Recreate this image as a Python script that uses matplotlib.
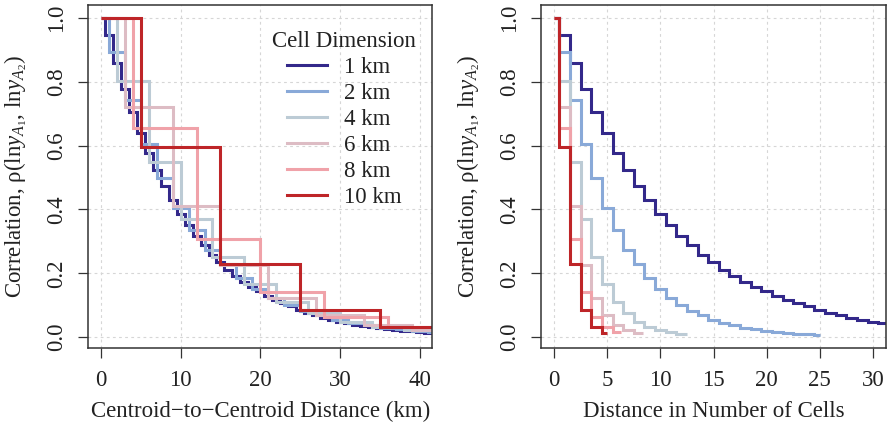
import numpy as np
import matplotlib
matplotlib.use("Agg")
import matplotlib.pyplot as plt

plt.rcParams["font.family"] = ["Liberation Serif", "DejaVu Serif"]
plt.rcParams["mathtext.fontset"] = "custom"
plt.rcParams["mathtext.rm"] = "Liberation Serif"
plt.rcParams["mathtext.it"] = "Liberation Serif:italic"

FS = 16.5

# cell sizes (km) and correlation of cell averages at lag k = 0, 1, 2, ... cells
cell_km = [1, 2, 4, 6, 8, 10]
labels = ["1 km", "2 km", "4 km", "6 km", "8 km", "10 km"]
max_dist_km = 50

rho_1km = [1.0, 0.945, 0.859, 0.778, 0.704, 0.638, 0.577, 0.522, 0.474, 0.430,
           0.387, 0.351, 0.318, 0.287, 0.258, 0.234, 0.211, 0.192, 0.174, 0.157,
           0.143, 0.130, 0.117, 0.106, 0.096, 0.086, 0.077, 0.069, 0.061, 0.054,
           0.048, 0.043, 0.039, 0.035, 0.031, 0.028, 0.025, 0.022, 0.020, 0.018,
           0.016, 0.014, 0.013, 0.012, 0.011, 0.010, 0.009, 0.008, 0.007, 0.006,
           0.005]
rho_2km = [1.0, 0.893, 0.741, 0.606, 0.497, 0.404, 0.335, 0.273, 0.228, 0.184,
           0.150, 0.123, 0.101, 0.083, 0.068, 0.055, 0.045, 0.037, 0.030, 0.025,
           0.020, 0.016, 0.013, 0.011, 0.009, 0.008]
rho_4km = [1.0, 0.802, 0.548, 0.370, 0.250, 0.166, 0.109, 0.075, 0.049, 0.033,
           0.022, 0.015, 0.009]
rho_6km = [1.0, 0.722, 0.410, 0.227, 0.124, 0.068, 0.039, 0.023, 0.013]
rho_8km = [1.0, 0.655, 0.306, 0.140, 0.062, 0.033, 0.015]
rho_10km = [1.0, 0.594, 0.229, 0.086, 0.032, 0.013]
rho_all = [rho_1km, rho_2km, rho_4km, rho_6km, rho_8km, rho_10km]

colors = ["#33288a", "#89a9d8", "#bccbd5", "#ddbcc4", "#f0a2a9", "#be2528"]


def step_edges(cell, n):
    # each lag k covers distances from (k - 0.5) to (k + 0.5) cell widths
    k = np.arange(1, n)
    return np.concatenate([[0.0], cell * (k - 0.5), [max_dist_km]])


def style_axes(ax, xticks):
    ax.set_xticks(xticks)
    ax.set_yticks([0.0, 0.2, 0.4, 0.6, 0.8, 1.0])
    ax.set_yticklabels(["0.0", "0.2", "0.4", "0.6", "0.8", "1.0"], rotation=90, va="center")
    ax.grid(True, color="#d6d6d6", linestyle=(0, (2.5, 3)), linewidth=0.8)
    ax.set_axisbelow(True)
    for s in ax.spines.values():
        s.set_color("#333333")
        s.set_linewidth(1.1)
    ax.tick_params(axis="both", direction="out", length=7.5, width=0.9,
                   color="#333333", labelsize=FS, labelcolor="#222222")
    ax.tick_params(axis="x", pad=8)
    ax.tick_params(axis="y", pad=8)
    ax.set_ylabel("Correlation, ρ(ln$y_{A_1}$, ln$y_{A_2}$)", fontsize=FS, color="#222222")
    ax.yaxis.set_label_coords(-0.172, 0.5)
    ax.set_ylim(-0.034, 1.04)


fig = plt.figure(figsize=(8.88, 4.24), dpi=100)
ax1 = fig.add_axes([0.0994, 0.1792, 0.3874, 0.809])
ax2 = fig.add_axes([0.6096, 0.1792, 0.3878, 0.809])

for cell, rho, col, lab in zip(cell_km, rho_all, colors, labels):
    edges = step_edges(cell, len(rho))
    ax1.stairs(rho, edges, baseline=None, color=col, linewidth=2.2, label=lab)
    ax2.stairs(rho, edges / cell, baseline=None, color=col, linewidth=2.2)

style_axes(ax1, [0, 10, 20, 30, 40])
ax1.set_xlim(-1.6, 41.6)
ax1.set_xlabel("Centroid\u2212to\u2212Centroid Distance (km)", fontsize=FS, color="#222222")
ax1.xaxis.set_label_coords(0.5, -0.155)

style_axes(ax2, [0, 5, 10, 15, 20, 25, 30])
ax2.set_xlim(-1.2, 31.2)
ax2.set_xlabel("Distance in Number of Cells", fontsize=FS, color="#222222")
ax2.xaxis.set_label_coords(0.5, -0.155)

leg = ax1.legend(title="Cell Dimension", loc="upper left", bbox_to_anchor=(0.535, 0.925),
                 frameon=False, fontsize=FS, title_fontsize=FS, handlelength=1.75,
                 handletextpad=0.75, labelspacing=0.22, borderpad=0.0, borderaxespad=0.0)
for t in leg.get_texts():
    t.set_color("#222222")
leg.get_title().set_color("#222222")

fig.savefig("out.png", dpi=100)
